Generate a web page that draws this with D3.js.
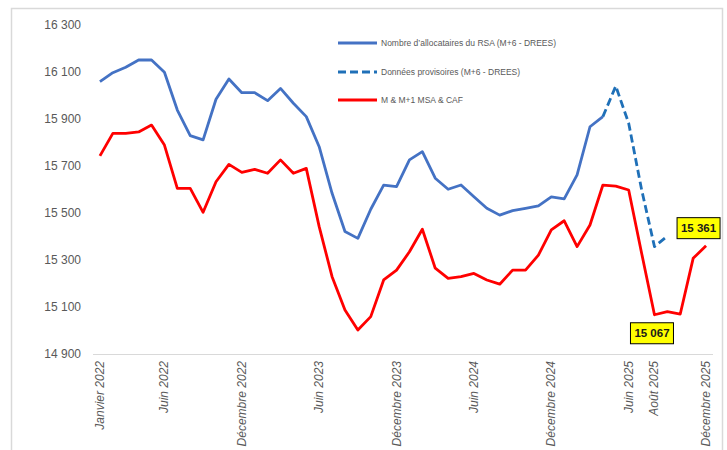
<!DOCTYPE html>
<html>
<head>
<meta charset="utf-8">
<script src="https://cdn.jsdelivr.net/npm/d3@7"></script>
<style>
    html, body { margin: 0; padding: 0; background: #fff; }
    svg { display: block; font-family: "Liberation Sans", Arial, sans-serif; }
</style>
</head>
<body>
<svg id="chart" width="727" height="450"></svg>
<script>
(function () {
    'use strict';

    // months Janvier 2022 .. Décembre 2025
    var months = d3.range(48);

    var tickIndexes = [0, 5, 11, 17, 23, 29, 35, 41, 43, 47];
    var tickLabels = ['Janvier 2022', 'Juin 2022', 'Décembre 2022', 'Juin 2023', 'Décembre 2023',
        'Juin 2024', 'Décembre 2024', 'Juin 2025', 'Août 2025', 'Décembre 2025'];

    var yTicks = [14900, 15100, 15300, 15500, 15700, 15900, 16100, 16300];

    // Nombre d'allocataires du RSA (M+6 - DREES), i0..i39
    var rsaDrees = [16059, 16097, 16120, 16151, 16151, 16099, 15938, 15829, 15811, 15984, 16070, 16012,
        16012, 15978, 16030, 15967, 15910, 15782, 15584, 15421, 15392, 15516, 15619, 15612,
        15726, 15761, 15648, 15601, 15619, 15569, 15520, 15491, 15510, 15520, 15530, 15569,
        15560, 15662, 15867, 15910];

    // Données provisoires, i39..i44
    var provisoireStart = 39;
    var provisoires = [15910, 16040, 15882, 15600, 15357, 15402];

    // M & M+1 MSA & CAF, i0..i47
    var msaCaf = [15743, 15839, 15839, 15845, 15874, 15789, 15605, 15605, 15503, 15633, 15707, 15673,
        15686, 15669, 15726, 15669, 15690, 15442, 15229, 15087, 15002, 15059, 15215, 15257,
        15335, 15431, 15265, 15222, 15229, 15243, 15215, 15197, 15257, 15257, 15321, 15428,
        15467, 15357, 15449, 15619, 15614, 15598, 15330, 15067, 15080, 15070, 15307, 15361];

    var legendLabels = ['Nombre d\u2019allocataires du RSA (M+6 - DREES)', 'Données provisoires (M+6 - DREES)',
        'M & M+1 MSA & CAF'];

    var callouts = [
        {index: 43, dx: -2.5, dy: 18.5},
        {index: 47, dx: -7.5, dy: -17.5}
    ];

    var COLORS = {
        blue: '#4472c4',
        dashed: '#1f70b8',
        red: '#ff0000',
        text: '#595959',
        axis: '#d9d9d9'
    };

    var svg = d3.select('#chart');

    var x = d3.scalePoint().domain(months).range([93.5, 712.5]).padding(0.5);
    var y = d3.scaleLinear().domain([14900, 16300]).range([354, 25]);

    var fr = d3.formatLocale({decimal: ',', thousands: ' ', grouping: [3], currency: ['', ' €']});
    var fmt = fr.format(',d');

    function toPoints(values, start) {
        return values.map(function (v, i) {
            return {i: i + (start || 0), v: v};
        });
    }

    var line = d3.line()
        .x(function (d) { return x(d.i); })
        .y(function (d) { return y(d.v); });

    // frame
    svg.append('rect')
        .attr('x', 11.5).attr('y', 8.5)
        .attr('width', 711).attr('height', 460)
        .attr('fill', '#fff')
        .attr('stroke', COLORS.axis)
        .attr('stroke-width', 1.5);

    // y axis labels
    svg.append('g').selectAll('text')
        .data(yTicks)
        .enter()
        .append('text')
        .attr('x', 81)
        .attr('y', function (d) { return y(d); })
        .attr('dy', '0.35em')
        .attr('text-anchor', 'end')
        .attr('font-size', '12px')
        .attr('fill', COLORS.text)
        .text(fmt);

    // x axis line
    svg.append('line')
        .attr('x1', 93).attr('x2', 713)
        .attr('y1', y(14900) + 0.5).attr('y2', y(14900) + 0.5)
        .attr('stroke', COLORS.axis)
        .attr('stroke-width', 1.2);

    // x labels
    svg.append('g').selectAll('text')
        .data(tickIndexes)
        .enter()
        .append('text')
        .attr('transform', function (d) {
            return 'translate(' + (x(d) + 4) + ',361) rotate(-90)';
        })
        .attr('text-anchor', 'end')
        .attr('font-size', '12px')
        .attr('font-style', 'italic')
        .attr('fill', COLORS.text)
        .text(function (d, i) { return tickLabels[i]; });

    // series
    var series = svg.append('g').attr('fill', 'none').attr('stroke-linejoin', 'round');

    series.append('path')
        .attr('d', line(toPoints(rsaDrees)))
        .attr('stroke', COLORS.blue)
        .attr('stroke-width', 2.8);

    series.append('path')
        .attr('d', line(toPoints(provisoires, provisoireStart)))
        .attr('stroke', COLORS.dashed)
        .attr('stroke-width', 2.8)
        .attr('stroke-dasharray', '8,4');

    series.append('path')
        .attr('d', line(toPoints(msaCaf)))
        .attr('stroke', COLORS.red)
        .attr('stroke-width', 2.8);

    // legend
    var legendStyles = [
        {color: COLORS.blue, dash: null},
        {color: COLORS.dashed, dash: '8,4'},
        {color: COLORS.red, dash: null}
    ];
    var legendRows = [43, 72, 100];
    var legend = svg.append('g');
    legendLabels.forEach(function (label, i) {
        legend.append('line')
            .attr('x1', 338).attr('x2', 377)
            .attr('y1', legendRows[i]).attr('y2', legendRows[i])
            .attr('stroke', legendStyles[i].color)
            .attr('stroke-width', 2.8)
            .attr('stroke-dasharray', legendStyles[i].dash);
        legend.append('text')
            .attr('x', 381)
            .attr('y', legendRows[i])
            .attr('dy', '0.35em')
            .attr('font-size', '8.5px')
            .attr('fill', COLORS.text)
            .text(label);
    });

    // callouts
    var boxes = svg.append('g').selectAll('g')
        .data(callouts)
        .enter()
        .append('g')
        .attr('transform', function (d) {
            return 'translate(' + (x(d.index) + d.dx) + ',' + (y(msaCaf[d.index]) + d.dy) + ')';
        });
    boxes.append('rect')
        .attr('x', -21.5).attr('y', -10.5)
        .attr('width', 43).attr('height', 21)
        .attr('fill', '#ffff00')
        .attr('stroke', '#000')
        .attr('stroke-width', 1);
    boxes.append('text')
        .attr('text-anchor', 'middle')
        .attr('dy', '0.35em')
        .attr('font-size', '11.5px')
        .attr('font-weight', 'bold')
        .attr('fill', '#1a1a1a')
        .text(function (d) { return fmt(msaCaf[d.index]); });
})();
</script>
</body>
</html>
